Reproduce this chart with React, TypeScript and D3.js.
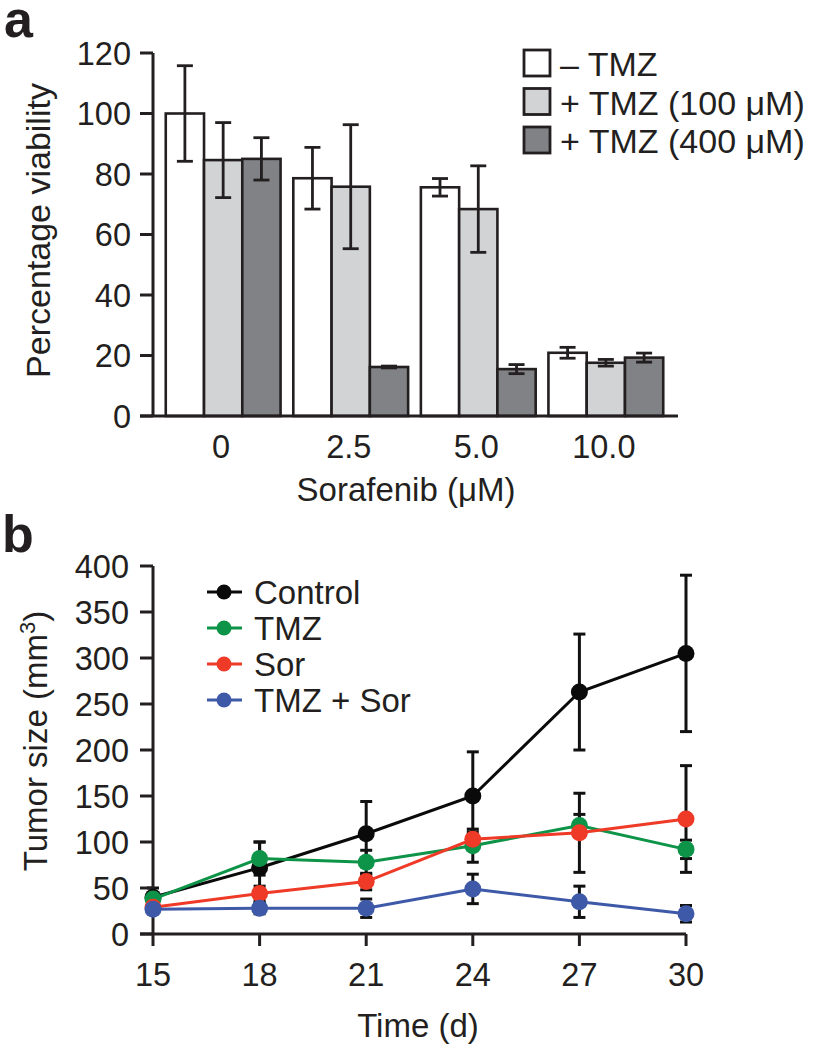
import React from "react";
import * as d3 from "d3";

// ---------- Panel a data ----------
const doses = ["0", "2.5", "5.0", "10.0"];
const barSeries = ["– TMZ", "+ TMZ (100 μM)", "+ TMZ (400 μM)"];
const noTmz = [100, 78.6, 75.6, 20.9];
const noTmzErr = [15.8, 10.2, 2.9, 1.8];
const tmz100 = [84.6, 75.8, 68.4, 17.6];
const tmz100Err = [12.4, 20.5, 14.3, 1.1];
const tmz400 = [85, 16.2, 15.5, 19.3];
const tmz400Err = [7, 0.3, 1.5, 1.5];
const yTicksA = [0, 20, 40, 60, 80, 100, 120];

// ---------- Panel b data ----------
const days = [15, 18, 21, 24, 27, 30];
const lineSeries = ["Control", "TMZ", "Sor", "TMZ + Sor"];
const control = [40, 72, 109, 150, 263, 305];
const controlErr = [10, 28, 35, 48, 63, 85];
const tmz = [38, 82, 78, 96, 118, 92];
const tmzErr = [5, 18, 13, 18, 12, 10];
const sor = [29, 44, 57, 103, 110, 125];
const sorErr = [4, 8, 9, 8, 43, 58];
const combo = [27, 28, 28, 49, 35, 22];
const comboErr = [4, 6, 10, 16, 17, 9];
const yTicksB = [0, 50, 100, 150, 200, 250, 300, 350, 400];

const INK = "#231f20";
const FONT = "'Liberation Sans', Arial, Helvetica, sans-serif";
const barFills = ["#ffffff", "#d1d3d4", "#808285"];
const lineColors = ["#0a0a0a", "#0d9448", "#ee3a26", "#3e59a8"];

export default function App() {
  // Panel a scales
  const xA = d3.scaleBand().domain(doses).range([153, 676]).paddingInner(0.1).paddingOuter(0.1);
  const xInner = d3.scaleBand().domain(barSeries).range([0, xA.bandwidth()]);
  const yA = d3.scaleLinear().domain([0, 120]).range([416, 53]);
  const barVals = [noTmz, tmz100, tmz400];
  const barErrs = [noTmzErr, tmz100Err, tmz400Err];

  // Panel b scales
  const xB = d3.scaleLinear().domain([15, 30]).range([153, 686]);
  const yB = d3.scaleLinear().domain([0, 400]).range([934, 566]);
  const lineVals = [control, tmz, sor, combo];
  const lineErrs = [controlErr, tmzErr, sorErr, comboErr];
  const lineGen = d3
    .line<number>()
    .x((_, i) => xB(days[i]))
    .y((v) => yB(v));

  return (
    <svg
      width={814}
      height={1050}
      style={{ position: "absolute", left: 0, top: 0, background: "#fff" }}
      fontFamily={FONT}
      fill={INK}
    >
      {/* ===== Panel a ===== */}
      <text x={4} y={37} fontSize={52} fontWeight="bold">a</text>

      {/* bars */}
      {doses.map((d, gi) => (
        <g key={d}>
          {barSeries.map((s, si) => {
            const x = (xA(d) as number) + (xInner(s) as number);
            const w = xInner.bandwidth();
            const v = barVals[si][gi];
            return (
              <rect
                key={s}
                x={x}
                y={yA(v)}
                width={w}
                height={yA(0) - yA(v)}
                fill={barFills[si]}
                stroke={INK}
                strokeWidth={2.6}
              />
            );
          })}
        </g>
      ))}
      {/* bar error bars */}
      {doses.map((d, gi) => (
        <g key={"e" + d} stroke={INK} strokeWidth={2.8}>
          {barSeries.map((s, si) => {
            const cx = (xA(d) as number) + (xInner(s) as number) + xInner.bandwidth() / 2;
            const v = barVals[si][gi];
            const e = barErrs[si][gi];
            const y1 = yA(v + e);
            const y2 = yA(v - e);
            return (
              <g key={s}>
                <line x1={cx} x2={cx} y1={y1} y2={y2} />
                <line x1={cx - 8} x2={cx + 8} y1={y1} y2={y1} />
                <line x1={cx - 8} x2={cx + 8} y1={y2} y2={y2} />
              </g>
            );
          })}
        </g>
      ))}

      {/* axes a */}
      <g stroke={INK} strokeWidth={3}>
        <line x1={153} x2={153} y1={yA(120)} y2={yA(0)} />
        <line x1={140} x2={678} y1={yA(0)} y2={yA(0)} />
        {yTicksA.map((t) => (
          <line key={t} x1={140} x2={153} y1={yA(t)} y2={yA(t)} />
        ))}
      </g>
      {yTicksA.map((t) => (
        <text key={t} x={131} y={yA(t) + 11.5} fontSize={32.5} textAnchor="end">
          {t}
        </text>
      ))}
      {doses.map((d) => (
        <text key={d} x={(xA(d) as number) + xA.bandwidth() / 2 - 2} y={458} fontSize={32.5} textAnchor="middle">
          {d}
        </text>
      ))}
      <text x={406} y={501} fontSize={33} textAnchor="middle">Sorafenib (μM)</text>
      <text transform={`translate(50,${yA(60) - 4}) rotate(-90)`} fontSize={34} textAnchor="middle">
        Percentage viability
      </text>

      {/* legend a */}
      {barSeries.map((s, si) => {
        const top = [50, 88.5, 127][si];
        return (
          <g key={s}>
            <rect x={524} y={top} width={26} height={26} fill={barFills[si]} stroke={INK} strokeWidth={2.8} />
            <text x={560} y={top + 26} fontSize={34}>{s}</text>
          </g>
        );
      })}

      {/* ===== Panel b ===== */}
      <text x={2} y={552} fontSize={52} fontWeight="bold">b</text>

      {/* error bars */}
      {lineVals.map((vals, si) => (
        <g key={"le" + si} stroke="#111" strokeWidth={3}>
          {vals.map((v, i) => {
            const cx = xB(days[i]);
            const e = lineErrs[si][i];
            const y1 = yB(v + e);
            const y2 = yB(Math.max(0, v - e));
            return (
              <g key={i}>
                <line x1={cx} x2={cx} y1={y1} y2={y2} />
                <line x1={cx - 6} x2={cx + 6} y1={y1} y2={y1} />
                <line x1={cx - 6} x2={cx + 6} y1={y2} y2={y2} />
              </g>
            );
          })}
        </g>
      ))}

      {/* axes b */}
      <g stroke={INK} strokeWidth={3}>
        <line x1={153} x2={153} y1={yB(400)} y2={yB(0)} />
        <line x1={140} x2={686} y1={yB(0)} y2={yB(0)} />
        {yTicksB.map((t) => (
          <line key={t} x1={140} x2={153} y1={yB(t)} y2={yB(t)} />
        ))}
        {days.map((d) => (
          <line key={d} x1={xB(d)} x2={xB(d)} y1={yB(0)} y2={yB(0) + 12} />
        ))}
      </g>

      {/* lines + dots */}
      {lineVals.map((vals, si) => (
        <g key={"l" + si}>
          <path d={lineGen(vals) || ""} fill="none" stroke={lineColors[si]} strokeWidth={3} />
          {vals.map((v, i) => (
            <circle key={i} cx={xB(days[i])} cy={yB(v)} r={8.5} fill={lineColors[si]} />
          ))}
        </g>
      ))}

      {yTicksB.map((t) => (
        <text key={t} x={129} y={yB(t) + 11.5} fontSize={32.5} textAnchor="end">
          {t}
        </text>
      ))}
      {days.map((d) => (
        <text key={d} x={xB(d)} y={986} fontSize={32.5} textAnchor="middle">
          {d}
        </text>
      ))}
      <text x={418} y={1037} fontSize={33} textAnchor="middle">Time (d)</text>
      <text transform={`translate(47,741) rotate(-90)`} fontSize={33} textAnchor="middle">
        Tumor size (mm<tspan dy={-12} fontSize={22}>3</tspan>
        <tspan dy={12}>)</tspan>
      </text>

      {/* legend b */}
      {lineSeries.map((s, si) => {
        const cy = 592 + si * 36;
        return (
          <g key={s}>
            <line x1={207} x2={242} y1={cy} y2={cy} stroke={lineColors[si]} strokeWidth={3} />
            <circle cx={224} cy={cy} r={7.5} fill={lineColors[si]} />
            <text x={254} y={cy + 12} fontSize={33}>{s}</text>
          </g>
        );
      })}
    </svg>
  );
}
